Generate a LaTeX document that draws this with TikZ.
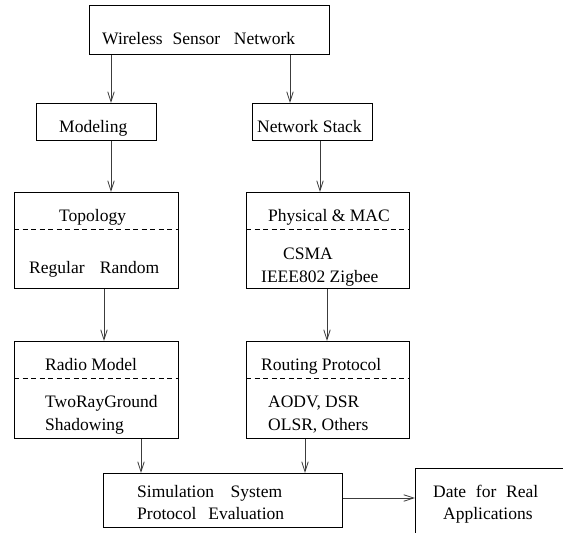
\documentclass[tikz,border=0pt]{standalone}
\usepackage{fontspec}
\setmainfont{Liberation Serif}
\usetikzlibrary{arrows.meta}
\definecolor{arrgray}{RGB}{60,60,60}
\tikzset{
  box/.style={draw=black, line width=0.8pt, rectangle, inner sep=0pt, anchor=north west},
  lbl/.style={inner sep=0pt, anchor=base west, font=\fontsize{17.5}{21}\selectfont},
  arr/.style={draw=arrgray, line width=0.8pt, -{Straight Barb[length=10pt,width=6.5pt]}},
  sep/.style={draw=black, line width=0.7pt, dash pattern=on 5pt off 3.5pt}
}
\begin{document}
\begin{tikzpicture}[x=1pt,y=-1pt]
\useasboundingbox (0,0) rectangle (563,533);
% boxes
\node[box, minimum width=240pt, minimum height=49pt] (wsn) at (89,5) {};
\node[box, minimum width=120pt, minimum height=37pt] (mod) at (36,103) {};
\node[box, minimum width=120pt, minimum height=37pt] (ns) at (252,103) {};
\node[box, minimum width=164pt, minimum height=96pt] (top) at (14,192) {};
\node[box, minimum width=163pt, minimum height=96pt] (phy) at (246,192) {};
\node[box, minimum width=164pt, minimum height=97pt] (rad) at (14,341) {};
\node[box, minimum width=163pt, minimum height=97pt] (rou) at (246,341) {};
\node[box, minimum width=239pt, minimum height=54pt] (sim) at (103,473) {};
\node[box, minimum width=220pt, minimum height=120pt] (dat) at (415,468) {};
% dashed separators
\coordinate (dt) at (0,229);
\coordinate (dr) at (0,378);
\draw[sep] (top.west |- dt) -- (top.east |- dt);
\draw[sep] (phy.west |- dt) -- (phy.east |- dt);
\draw[sep] (rad.west |- dr) -- (rad.east |- dr);
\draw[sep] (rou.west |- dr) -- (rou.east |- dr);
% texts
\node[lbl] (t1) at (102,44) {\makebox[193pt][s]{Wireless\hspace{2pt} Sensor\hspace{6pt} Network}};
\node[lbl] (t2) at (59,132) {Modeling};
\node[lbl] (t3) at (257,132) {Network Stack};
\node[lbl] (t4) at (59,221) {Topology};
\node[lbl] (t5) at (29,273) {\makebox[130pt][s]{Regular Random}};
\node[lbl] (t6) at (268,221.5) {Physical \& MAC};
\node[lbl] (t7) at (283,259) {CSMA};
\node[lbl] (t8) at (261,282) {IEEE802 Zigbee};
\node[lbl] (t9) at (45,370.5) {Radio Model};
\node[lbl] (t10) at (45,407) {TwoRayGround};
\node[lbl] (t11) at (45,430) {Shadowing};
\node[lbl] (t12) at (261,370.5) {Routing Protocol};
\node[lbl] (t13) at (268,407) {AODV, DSR};
\node[lbl] (t14) at (268,430) {OLSR, Others};
\node[lbl] (t15) at (137,497) {\makebox[145pt][s]{Simulation System}};
\node[lbl] (t16) at (137,519) {\makebox[147pt][s]{Protocol Evaluation}};
\node[lbl] (t17) at (433,497) {\makebox[105pt][s]{Date for Real}};
\node[lbl] (t18) at (443,519) {Applications};
% connector columns
\coordinate (c1) at (111,0);
\coordinate (c2) at (290,0);
\coordinate (c3) at (320,0);
\coordinate (c4) at (104,0);
\coordinate (c5) at (327,0);
\coordinate (c6) at (141,0);
\coordinate (c7) at (305,0);
\coordinate (r1) at (0,498);
\draw[arr] (wsn.south -| c1) -- (mod.north -| c1);
\draw[arr] (wsn.south -| c2) -- (ns.north -| c2);
\draw[arr] (mod.south -| c1) -- (top.north -| c1);
\draw[arr] (ns.south -| c3) -- (phy.north -| c3);
\draw[arr] (top.south -| c4) -- (rad.north -| c4);
\draw[arr] (phy.south -| c5) -- (rou.north -| c5);
\draw[arr] (rad.south -| c6) -- (sim.north -| c6);
\draw[arr] (rou.south -| c7) -- (sim.north -| c7);
\draw[arr] (sim.east |- r1) -- (dat.west |- r1);
\end{tikzpicture}
\end{document}
